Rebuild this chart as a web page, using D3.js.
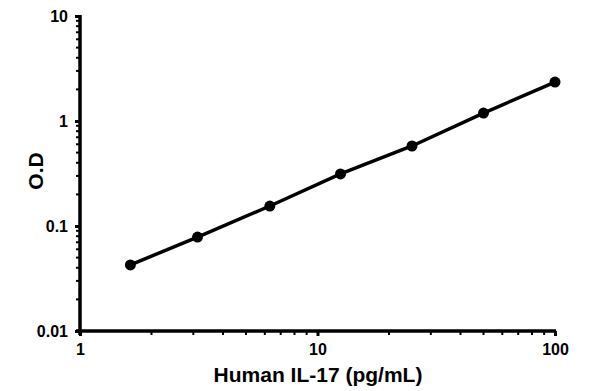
<!DOCTYPE html>
<html>
<head>
<meta charset="UTF-8">
<script src="https://d3js.org/d3.v7.min.js"></script>
<style>
  body { margin: 0; background: #fff; }
  .tick text { font: bold 16px "Liberation Sans", Arial, sans-serif; fill: #000; }
  .title { font: bold 21px "Liberation Sans", Arial, sans-serif; fill: #000; }
</style>
</head>
<body>
<svg id="chart" width="596" height="391"></svg>
<script>
// standard curve: concentration (pg/mL) vs optical density
var conc = [1.63, 3.125, 6.3, 12.5, 25, 50, 100];
var od = [0.0426, 0.0785, 0.155, 0.313, 0.578, 1.19, 2.35];
var xTicks = [1, 10, 100];
var yTicks = [0.01, 0.1, 1, 10];

var svg = d3.select("#chart");
var x = d3.scaleLog().domain([1, 100]).range([80, 555]);
var y = d3.scaleLog().domain([0.01, 10]).range([331, 16]);

// minor ticks (2..9 in each decade)
var xMinor = [], yMinor = [];
[1, 10].forEach(function(d) { for (var k = 2; k < 10; k++) xMinor.push(d * k); });
[0.01, 0.1, 1].forEach(function(d) { for (var k = 2; k < 10; k++) yMinor.push(+(d * k).toPrecision(3)); });

svg.append("g").selectAll("line").data(xMinor).enter().append("line")
  .attr("x1", d => x(d)).attr("x2", d => x(d))
  .attr("y1", y(0.01)).attr("y2", y(0.01) + 4)
  .attr("stroke", "#000").attr("stroke-width", 2);
svg.append("g").selectAll("line").data(yMinor).enter().append("line")
  .attr("y1", d => y(d)).attr("y2", d => y(d))
  .attr("x1", x(1)).attr("x2", x(1) - 4)
  .attr("stroke", "#000").attr("stroke-width", 2);

var xAxis = svg.append("g")
  .attr("transform", "translate(0," + y(0.01) + ")")
  .call(d3.axisBottom(x).tickValues(xTicks).tickFormat(d3.format("d")).tickSize(5).tickPadding(8));
var yAxis = svg.append("g")
  .attr("transform", "translate(" + x(1) + ",0)")
  .call(d3.axisLeft(y).tickValues(yTicks).tickFormat(d => String(d)).tickSize(5).tickPadding(5));

[xAxis, yAxis].forEach(function(g) {
  g.select(".domain").attr("stroke", "#000").attr("stroke-width", 3.5);
  g.selectAll(".tick line").attr("stroke", "#000").attr("stroke-width", 3);
});
xAxis.select(".domain").attr("d", "M" + (x(1) - 4) + ",0H" + (x(100) + 1));
yAxis.select(".domain").attr("d", "M0," + (y(10) - 1) + "V" + (y(0.01) + 4));
yAxis.selectAll(".tick text").attr("dx", -2);

var pts = conc.map((c, i) => [c, od[i]]);
svg.append("path").datum(pts)
  .attr("fill", "none").attr("stroke", "#000").attr("stroke-width", 3.5)
  .attr("d", d3.line().x(d => x(d[0])).y(d => y(d[1])));
svg.append("g").selectAll("circle").data(pts).enter().append("circle")
  .attr("cx", d => x(d[0])).attr("cy", d => y(d[1])).attr("r", 5.5).attr("fill", "#000");

svg.append("text").attr("class", "title")
  .attr("x", 318).attr("y", 382).attr("text-anchor", "middle")
  .text("Human IL-17 (pg/mL)");
svg.append("text").attr("class", "title")
  .attr("transform", "translate(36,171) rotate(-90)")
  .attr("text-anchor", "middle").attr("dy", "0.35em")
  .text("O.D");
</script>
</body>
</html>
